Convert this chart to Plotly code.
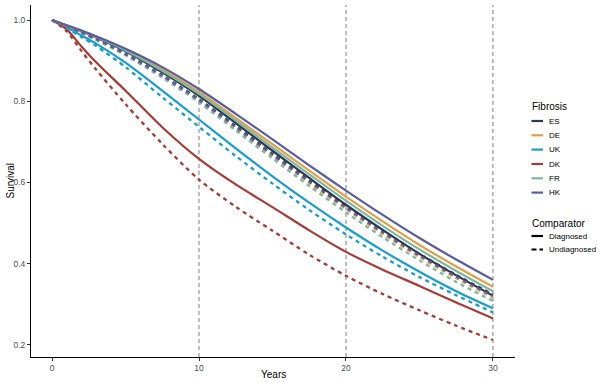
import plotly.graph_objects as go

years = [0, 1, 2, 3, 5, 7.5, 10, 12.5, 15, 17.5, 20, 22.5, 25, 27.5, 30]

countries = ["ES", "DE", "UK", "DK", "FR", "HK"]
colors = {"ES": "#2b3a4c", "DE": "#e0a048", "UK": "#1a9ccc", "DK": "#a63c38",
          "FR": "#80b5a2", "HK": "#5a5c9e"}

# Diagnosed (solid)
ES_diag = [1, 0.986, 0.972, 0.957, 0.923, 0.871, 0.813, 0.746, 0.678, 0.611, 0.545, 0.483, 0.424, 0.371, 0.321]
DE_diag = [1, 0.987, 0.973, 0.959, 0.927, 0.879, 0.823, 0.759, 0.694, 0.629, 0.565, 0.504, 0.446, 0.393, 0.343]
UK_diag = [1, 0.982, 0.962, 0.942, 0.895, 0.826, 0.755, 0.684, 0.615, 0.550, 0.489, 0.432, 0.380, 0.332, 0.290]
DK_diag = [1, 0.977, 0.935, 0.896, 0.826, 0.736, 0.658, 0.595, 0.539, 0.482, 0.429, 0.385, 0.345, 0.304, 0.265]
FR_diag = [1, 0.986, 0.972, 0.958, 0.925, 0.875, 0.818, 0.753, 0.686, 0.620, 0.555, 0.493, 0.435, 0.382, 0.332]
HK_diag = [1, 0.987, 0.974, 0.960, 0.929, 0.884, 0.830, 0.769, 0.706, 0.642, 0.580, 0.520, 0.463, 0.410, 0.360]

# Undiagnosed (dashed)
ES_undiag = [1, 0.985, 0.969, 0.953, 0.917, 0.864, 0.805, 0.739, 0.671, 0.605, 0.542, 0.481, 0.424, 0.372, 0.324]
DE_undiag = [1, 0.985, 0.969, 0.952, 0.915, 0.861, 0.801, 0.733, 0.665, 0.598, 0.534, 0.473, 0.416, 0.364, 0.316]
UK_undiag = [1, 0.980, 0.958, 0.936, 0.884, 0.810, 0.737, 0.665, 0.597, 0.532, 0.472, 0.417, 0.367, 0.322, 0.280]
DK_undiag = [1, 0.972, 0.924, 0.878, 0.793, 0.695, 0.607, 0.540, 0.481, 0.422, 0.370, 0.325, 0.285, 0.247, 0.212]
FR_undiag = [1, 0.984, 0.968, 0.951, 0.913, 0.858, 0.797, 0.728, 0.659, 0.591, 0.526, 0.465, 0.408, 0.355, 0.308]
HK_undiag = [1, 0.985, 0.969, 0.953, 0.916, 0.863, 0.803, 0.736, 0.668, 0.602, 0.538, 0.477, 0.420, 0.368, 0.320]

diag = {"ES": ES_diag, "DE": DE_diag, "UK": UK_diag, "DK": DK_diag, "FR": FR_diag, "HK": HK_diag}
undiag = {"ES": ES_undiag, "DE": DE_undiag, "UK": UK_undiag, "DK": DK_undiag, "FR": FR_undiag, "HK": HK_undiag}

ref_years = [10, 20, 30]
x_ticks = [0, 10, 20, 30]
y_ticks = [0.2, 0.4, 0.6, 0.8, 1.0]
y_ticktext = ["0.2", "0.4", "0.6", "0.8", "1.0"]
comparators = ["Diagnosed", "Undiagnosed"]

fig = go.Figure()

for c in countries:
    fig.add_trace(go.Scatter(x=years, y=diag[c], mode="lines", showlegend=False,
                             line=dict(color=colors[c], width=2.2, shape="spline", smoothing=0.8)))
for c in countries:
    fig.add_trace(go.Scatter(x=years, y=undiag[c], mode="lines", showlegend=False,
                             line=dict(color=colors[c], width=2.3, dash="4px,4px",
                                       shape="spline", smoothing=0.8)))

for yr in ref_years:
    fig.add_shape(type="line", xref="x", yref="paper", x0=yr, x1=yr, y0=0, y1=1,
                  line=dict(color="#7f7f7f", width=1, dash="4px,3px"), layer="below")

# manual legend (paper coordinates from pixel positions)
L, R, T, B = 31, 515, 5, 357
W, H = R - L, B - T
def px(x):
    return (x - L) / W
def py(y):
    return (B - y) / H

font_fam = "Liberation Sans, Arial, sans-serif"
fig.add_annotation(x=px(530), y=py(106), xref="paper", yref="paper", text="Fibrosis",
                   showarrow=False, xanchor="left", yanchor="middle",
                   font=dict(size=10, color="#000", family=font_fam))
item_y = [121, 135.3, 149.6, 164, 178.3, 192.6]
for c, yy in zip(countries, item_y):
    fig.add_shape(type="line", xref="paper", yref="paper", x0=px(531.5), x1=px(543),
                  y0=py(yy), y1=py(yy), line=dict(color=colors[c], width=2.2))
    fig.add_annotation(x=px(547), y=py(yy), xref="paper", yref="paper", text=c,
                       showarrow=False, xanchor="left", yanchor="middle",
                       font=dict(size=8, color="#000", family=font_fam))

fig.add_annotation(x=px(530), y=py(224), xref="paper", yref="paper", text="Comparator",
                   showarrow=False, xanchor="left", yanchor="middle",
                   font=dict(size=10, color="#000", family=font_fam))
comp_y = [236, 249.5]
comp_dash = ["solid", "5px,3px"]
for lab, yy, d in zip(comparators, comp_y, comp_dash):
    fig.add_shape(type="line", xref="paper", yref="paper", x0=px(531.5), x1=px(543),
                  y0=py(yy), y1=py(yy), line=dict(color="#000", width=2.2, dash=d))
    fig.add_annotation(x=px(547), y=py(yy), xref="paper", yref="paper", text=lab,
                       showarrow=False, xanchor="left", yanchor="middle",
                       font=dict(size=8, color="#000", family=font_fam))

fig.add_annotation(x=px(9.5), y=py(181), xref="paper", yref="paper", text="Survival",
                   showarrow=False, textangle=-90, xanchor="center", yanchor="middle",
                   font=dict(size=10, color="#000", family=font_fam))
fig.add_annotation(x=px(273), y=py(375), xref="paper", yref="paper", text="Years",
                   showarrow=False, xanchor="center", yanchor="middle",
                   font=dict(size=10, color="#000", family=font_fam))

fig.update_layout(
    width=600, height=383,
    margin=dict(l=L, r=600 - R, t=T, b=383 - B, autoexpand=False),
    paper_bgcolor="white", plot_bgcolor="white",
    font=dict(family=font_fam, size=8, color="#4d4d4d"),
    showlegend=False,
)
fig.update_xaxes(range=[-1.43, 31.5], tickvals=x_ticks, ticks="outside", ticklen=3,
                 tickcolor="#333", showline=True, linecolor="#000", linewidth=1,
                 showgrid=False, zeroline=False, automargin=False,
                 tickfont=dict(size=8.5, color="#4d4d4d"))
fig.update_yaxes(range=[0.170, 1.037], tickvals=y_ticks, ticktext=y_ticktext, ticks="outside",
                 ticklen=3, tickcolor="#333", showline=True, linecolor="#000", linewidth=1,
                 showgrid=False, zeroline=False, automargin=False,
                 tickfont=dict(size=8.5, color="#4d4d4d"))

fig.write_html("out.html", config={"displayModeBar": False},
               post_script="document.body.style.margin='0';document.body.style.overflow='hidden';")
